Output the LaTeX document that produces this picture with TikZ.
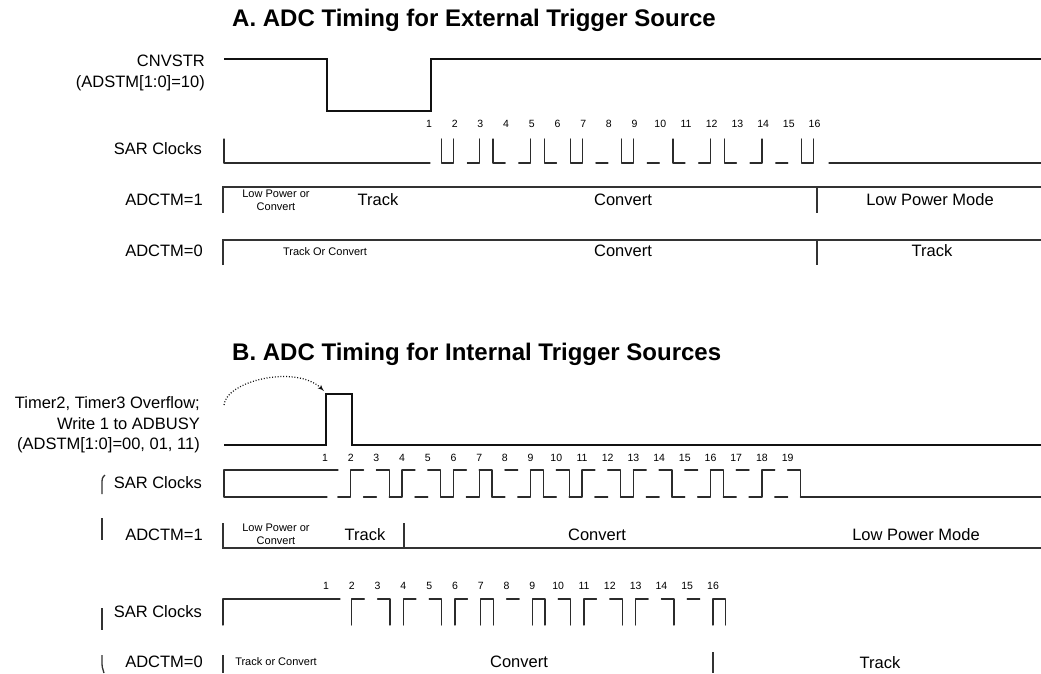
\documentclass[tikz,border=0pt]{standalone}
\usepackage{fontspec}
\setmainfont{Liberation Sans}
\usepackage{xcolor}
\usepackage{tikz}
\usetikzlibrary{arrows, calc}
\definecolor{WaveBlack}{HTML}{111111}
\definecolor{ClockGrey}{HTML}{2B2B2B}
\definecolor{RowGrey}{HTML}{333333}

\tikzset{
  wave/.style={line width=2.6pt, WaveBlack, line join=miter},
  clk/.style={line width=1.3pt, ClockGrey, line cap=round, line join=round},
  row/.style={line width=1.3pt, RowGrey},
  trigarc/.style={line width=1.2pt, WaveBlack, dash pattern=on 1pt off 1.8pt},
  sig/.style={anchor=east, align=right, inner sep=0pt, font=\fontsize{16.5}{20.5}\selectfont},
  field/.style={inner sep=0pt, font=\fontsize{16.5}{20}\selectfont},
  smalltxt/.style={inner sep=0pt, align=center, font=\fontsize{11}{13}\selectfont},
  clknum/.style={inner sep=0pt, font=\fontsize{10.5}{12}\selectfont},
  heading/.style={anchor=west, inner sep=0pt, font=\fontsize{24}{28}\selectfont\bfseries},
}

\begin{document}
\begin{tikzpicture}[x=1pt, y=-1pt, >=latex']
    \useasboundingbox (0,0) rectangle (1041,673);

    % A. external trigger
    \node [heading] (headA) at (232,20) {A. ADC Timing for External Trigger Source};
    \node [sig] (cnvstr) at (205,73) {CNVSTR\\(ADSTM[1:0]=10)};
    \draw [wave] (224,59) -- (327,59) -- (327,111) -- (431,111) -- (431,59) -- (1041,59);

    % SAR clocks (only the low halves survive)
    \node [sig] (sarA) at (202,149) {SAR Clocks};
    \foreach \k in {1,...,16}
        \node [clknum] (nA\k) at ({429+(\k-1)*25.7},124) {\k};
    \draw [clk] (224,139) -- (224,163) -- (430,163);
    \foreach \k/\l/\r in {2/1/1,3/0/1,4/1/0,5/0/1,6/1/0,7/1/1,8/0/0,9/1/1,10/0/0,11/1/0,12/0/1,13/1/0,14/0/1,15/0/0,16/1/1}
        \draw [clk] ({429+(\k-1)*25.7-13},{163-24*\l}) -- ++(0,{24*\l}) -- ++(12,0) -- ++(0,{-24*\r});
    \draw [clk] (829,163) -- (1041,163);

    % ADCTM rows
    \node [sig] (tmA1) at (203,200) {ADCTM=1};
    \draw [row] (223,213) -- (223,187) -- (1041,187);
    \draw [row] (817,187) -- (817,213);
    \node [smalltxt] (lpA) at (276,200) {Low Power or\\Convert};
    \node [field] (trkA1) at (378,200) {Track};
    \node [field] (cvA1) at (623,200) {Convert};
    \node [field] (lpmA) at (930,200) {Low Power Mode};

    \node [sig] (tmA0) at (203,251) {ADCTM=0};
    \draw [row] (223,265) -- (223,240) -- (1041,240);
    \draw [row] (817,240) -- (817,265);
    \node [smalltxt] (tocA) at (325,252) {Track Or Convert};
    \node [field] (cvA0) at (623,251) {Convert};
    \node [field] (trkA0) at (932,251) {Track};

    % B. internal trigger
    \node [heading] (headB) at (232,354) {B. ADC Timing for Internal Trigger Sources};
    \node [sig] (trig) at (200,425) {Timer2, Timer3 Overflow;\\Write 1 to ADBUSY\\(ADSTM[1:0]=00, 01, 11)};
    \draw [wave] (224,445) -- (326,445) -- (326,394) -- (352,394) -- (352,445) -- (1041,445);
    \coordinate (trgfrom) at (224,405);
    \coordinate (trgto) at (324,391);
    \draw [trigarc, ->] (trgfrom) .. controls (226,381) and (296,364) .. (trgto);

    % margin ticks
    \draw [row] (105,475) .. controls (102,478) .. (102,485) -- (102,494);
    \draw [row] (102,518) -- (102,540);
    \draw [row] (102,608) -- (102,630);
    \draw [row] (102,655) .. controls (102,668) .. (104,673);

    % SAR clocks, ADCTM=1
    \node [sig] (sarB1) at (202,483) {SAR Clocks};
    \foreach \k in {1,...,19}
        \node [clknum] (nB\k) at ({325+(\k-1)*25.7},458) {\k};
    \draw [clk] (338,470) -- (224,470) -- (224,497) -- (327,497);
    \foreach \k/\r/\f in {2/1/0,3/0/1,4/1/0,5/0/1,6/1/0,7/1/1,8/0/0,9/1/1,10/0/1,11/1/0,12/0/1,13/1/0,14/0/1,15/0/0,16/1/1,17/0/0,18/1/0,19/0/1} {
        \draw [clk] ({325+(\k-1)*25.7-12.85},497) -- ++(12.85,0) -- ++(0,{-27*\r});
        \draw [clk] ({325+(\k-1)*25.7},470) -- ++(12.85,0) -- ++(0,{27*\f});
    }
    \draw [clk] (800.45,497) -- (1041,497);

    \node [sig] (tmB1) at (203,535) {ADCTM=1};
    \draw [row] (223,523) -- (223,548) -- (1041,548);
    \draw [row] (404,523) -- (404,548);
    \node [smalltxt] (lpB) at (276,534) {Low Power or\\Convert};
    \node [field] (trkB1) at (365,535) {Track};
    \node [field] (cvB1) at (597,535) {Convert};
    \node [field] (lpmB) at (916,535) {Low Power Mode};

    % SAR clocks, ADCTM=0 (only the high halves survive)
    \node [sig] (sarB0) at (202,612) {SAR Clocks};
    \foreach \k in {1,...,16}
        \node [clknum] (mB\k) at ({326+(\k-1)*25.8},586) {\k};
    \draw [clk] (223,625) -- (223,599) -- (340,599);
    \foreach \k/\l/\r in {2/1/0,3/0/1,4/1/0,5/0/1,6/1/0,7/1/1,8/0/0,9/1/1,10/0/1,11/1/0,12/0/1,13/1/0,14/0/1,15/0/0,16/1/1}
        \draw [clk] ({326+(\k-1)*25.8},{599+26*\l}) -- ++(0,{-26*\l}) -- ++(12.5,0) -- ++(0,{26*\r});

    \node [sig] (tmB0) at (203,662) {ADCTM=0};
    \draw [row] (223,655) -- (223,673);
    \draw [row] (713,652) -- (713,673);
    \node [smalltxt] (tocB) at (276,662) {Track or Convert};
    \node [field] (cvB0) at (519,662) {Convert};
    \node [field] (trkB0) at (880,663) {Track};
\end{tikzpicture}
\end{document}
